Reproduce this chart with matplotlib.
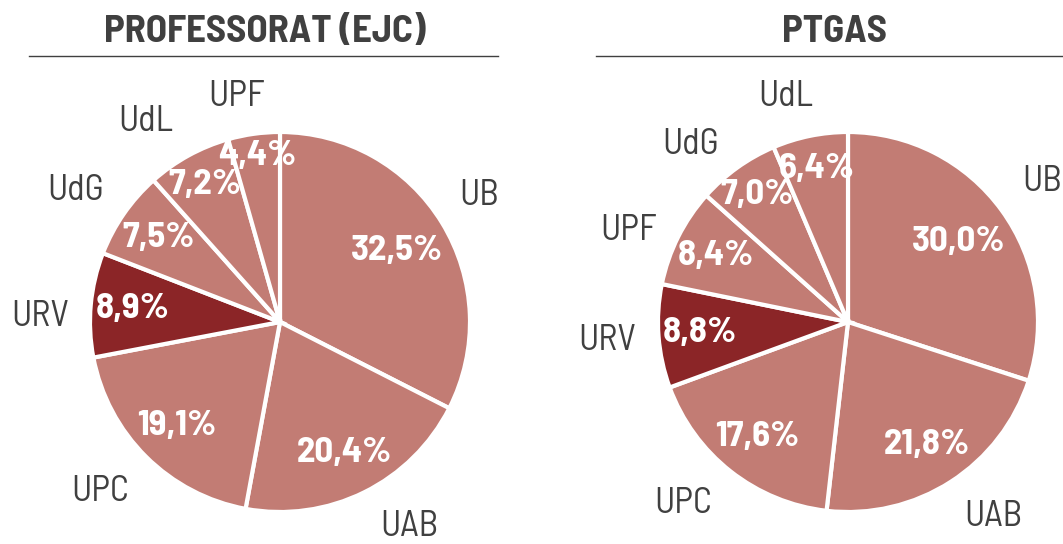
import numpy as np
import matplotlib.pyplot as plt
from matplotlib import font_manager

installed = {f.name for f in font_manager.fontManager.ttflist}
narrow = next((n for n in ['Barlow Semi Condensed', 'Barlow Condensed', 'Asap Condensed',
                           'Archivo Narrow', 'DejaVu Sans'] if n in installed), 'DejaVu Sans')

titles = ['PROFESSORAT (EJC)', 'PTGAS']
labels_left = ['UB', 'UAB', 'UPC', 'URV', 'UdG', 'UdL', 'UPF']
values_left = [32.5, 20.4, 19.1, 8.9, 7.5, 7.2, 4.4]
labels_right = ['UB', 'UAB', 'UPC', 'URV', 'UPF', 'UdG', 'UdL']
values_right = [30.0, 21.8, 17.6, 8.8, 8.4, 7.0, 6.4]

# layout only: outer label nudges (degrees ccw, radius) per wedge
nudge_left = [(1, 1.24), (6, 1.27), (-2, 1.30), (4, 1.26), (2, 1.28), (5, 1.27), (3, 1.21)]
nudge_right = [(0, 1.26), (4, 1.28), (-4, 1.29), (0, 1.27), (4, 1.25), (6, 1.25), (4, 1.23)]

light = '#c27c74'
dark = '#8b2527'
grey = '#404040'

W, H = 1063, 544
fig = plt.figure(figsize=(W / 100, H / 100), dpi=100)


def pct_radius(v):
    # small wedges get their labels pushed towards the rim
    if v < 5:
        return 0.88
    if v < 7.3:
        return 0.82
    if v < 10:
        return 0.78
    if v < 25:
        return 0.77
    return 0.72


def draw(cx, cy, r, labels, values, nudges, title, tx, line_x0, line_x1):
    half = 1.4 * r
    ax = fig.add_axes([(cx - half) / W, (H - cy - half) / H, 2 * half / W, 2 * half / H])
    colors = [dark if l == 'URV' else light for l in labels]
    wedges, _ = ax.pie(
        values, colors=colors, startangle=90, counterclock=False,
        wedgeprops=dict(edgecolor='white', linewidth=3))
    for w, v, lab, (da, dist) in zip(wedges, values, labels, nudges):
        mid = (w.theta1 + w.theta2) / 2
        ang = np.deg2rad(mid)
        d = pct_radius(v)
        ax.text(d * np.cos(ang), d * np.sin(ang), f'{v:.1f}%'.replace('.', ','),
                ha='center', va='center', color='white', fontsize=26.5,
                fontweight='bold', fontfamily=narrow)
        la = np.deg2rad(mid + da)
        ax.text(dist * np.cos(la), dist * np.sin(la), lab, ha='center', va='center',
                color=grey, fontsize=26, fontfamily=narrow, clip_on=False)
    ax.set_xlim(-1.4, 1.4)
    ax.set_ylim(-1.4, 1.4)
    ax.set_aspect('equal')
    ax.axis('off')
    fig.text(tx / W, 1 - 32 / H, title, ha='center', va='center', fontsize=28,
             fontweight='bold', color=grey, fontfamily=narrow)
    fig.add_artist(plt.Line2D([line_x0 / W, line_x1 / W], [1 - 56 / H] * 2,
                              color=grey, linewidth=1))


draw(280, 322, 190, labels_left, values_left, nudge_left, titles[0], 265, 29, 498)
draw(848, 322, 190, labels_right, values_right, nudge_right, titles[1], 835, 596, 1063)

fig.savefig('out.png', dpi=100)
